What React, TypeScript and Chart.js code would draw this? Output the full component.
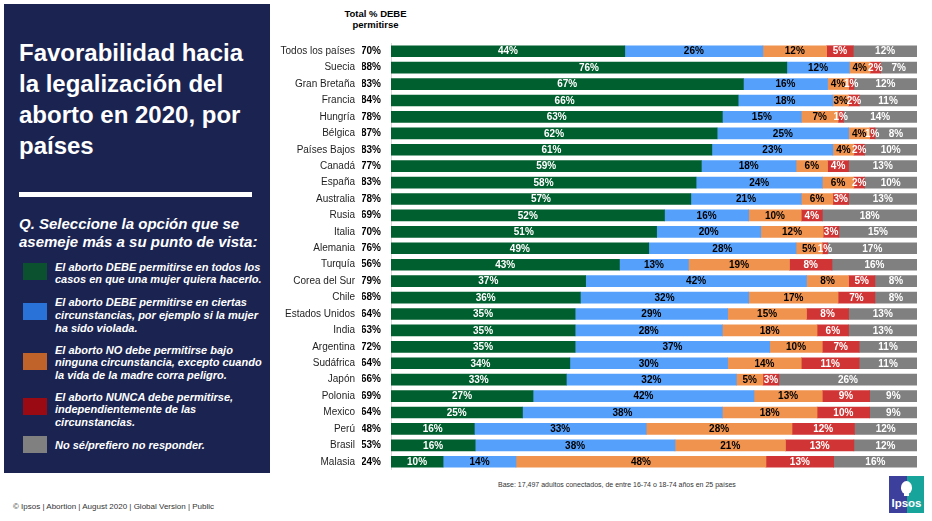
import React, { useEffect, useRef } from "react";
import { Chart, registerables } from "chart.js";

Chart.register(...registerables);

const FONT = '"Liberation Sans", Arial, Helvetica, sans-serif';

const COUNTRIES = [
  "Todos los países", "Suecia", "Gran Bretaña", "Francia", "Hungría", "Bélgica",
  "Países Bajos", "Canadá", "España", "Australia", "Rusia", "Italia", "Alemania",
  "Turquía", "Corea del Sur", "Chile", "Estados Unidos", "India", "Argentina",
  "Sudáfrica", "Japón", "Polonia", "Mexico", "Perú", "Brasil", "Malasia",
];

const TOTAL_DEBE = [70, 88, 83, 84, 78, 87, 83, 77, 83, 78, 69, 70, 76, 56, 79, 68, 64, 63, 72, 64, 66, 69, 64, 48, 53, 24];

const DEBE_TODOS = [44, 76, 67, 66, 63, 62, 61, 59, 58, 57, 52, 51, 49, 43, 37, 36, 35, 35, 35, 34, 33, 27, 25, 16, 16, 10];
const DEBE_CIERTAS = [26, 12, 16, 18, 15, 25, 23, 18, 24, 21, 16, 20, 28, 13, 42, 32, 29, 28, 37, 30, 32, 42, 38, 33, 38, 14];
const NO_EXCEPTO = [12, 4, 4, 3, 7, 4, 4, 6, 6, 6, 10, 12, 5, 19, 8, 17, 15, 18, 10, 14, 5, 13, 18, 28, 21, 48];
const NUNCA = [5, 2, 1, 2, 1, 1, 2, 4, 2, 3, 4, 3, 1, 8, 5, 7, 8, 6, 7, 11, 3, 9, 10, 12, 13, 13];
const NO_SE = [12, 7, 12, 11, 14, 8, 10, 13, 10, 13, 18, 15, 17, 16, 8, 8, 13, 13, 11, 11, 26, 9, 9, 12, 12, 16];

const SERIES = [DEBE_TODOS, DEBE_CIERTAS, NO_EXCEPTO, NUNCA, NO_SE];
const SERIES_NAMES = [
  "El aborto DEBE permitirse en todos los casos en que una mujer quiera hacerlo.",
  "El aborto DEBE permitirse en ciertas circunstancias, por ejemplo si la mujer ha sido violada.",
  "El aborto NO debe permitirse bajo ninguna circunstancia, excepto cuando la vida de la madre corra peligro.",
  "El aborto NUNCA debe permitirse, independientemente de las circunstancias.",
  "No sé/prefiero no responder.",
];
const BAR_COLORS = ["#005f2e", "#55a0fb", "#ef934f", "#d13434", "#808080"];
const LABEL_COLORS = ["#ffffff", "#000000", "#000000", "#ffffff", "#ffffff"];
const SWATCH_COLORS = ["#0b5130", "#2872d8", "#bf632b", "#9a0a13", "#808080"];

const LEGEND_LINES = [
  ["El aborto DEBE permitirse en todos los", "casos en que una mujer quiera hacerlo."],
  ["El aborto DEBE permitirse en ciertas", "circunstancias, por ejemplo si la mujer", "ha sido violada."],
  ["El aborto NO debe permitirse bajo", "ninguna circunstancia, excepto cuando", "la vida de la madre corra peligro."],
  ["El aborto NUNCA debe permitirse,", "independientemente de las", "circunstancias."],
  ["No sé/prefiero no responder."],
];
const LEGEND_TEXT_TOP = [260.5, 296.3, 343.6, 390.6, 438.6];
const LEGEND_SWATCH_TOP = [263, 303, 353, 398, 436];

const ROW_SUMS = COUNTRIES.map((_, i) => SERIES.reduce((s, arr) => s + arr[i], 0));

const segLabels = {
  id: "segLabels",
  afterDatasetsDraw(chart: any) {
    const ctx = chart.ctx;
    ctx.save();
    ctx.font = `bold 10px ${FONT}`;
    ctx.textAlign = "center";
    ctx.textBaseline = "middle";
    chart.data.datasets.forEach((_ds: any, di: number) => {
      const meta = chart.getDatasetMeta(di);
      meta.data.forEach((bar: any, i: number) => {
        const { x, base, y } = bar.getProps(["x", "base", "y"], true);
        ctx.fillStyle = LABEL_COLORS[di];
        ctx.fillText(SERIES[di][i] + "%", (x + base) / 2, y + 0.5);
      });
    });
    ctx.restore();
  },
};

function BarChart() {
  const ref = useRef<HTMLCanvasElement | null>(null);
  useEffect(() => {
    if (!ref.current) return;
    Chart.defaults.font.family = FONT;
    const chart = new Chart(ref.current, {
      type: "bar",
      data: {
        labels: COUNTRIES,
        datasets: SERIES.map((arr, di) => ({
          label: SERIES_NAMES[di],
          data: arr.map((v, i) => (v / ROW_SUMS[i]) * 100),
          backgroundColor: BAR_COLORS[di],
          borderWidth: 0,
          barThickness: 11,
        })),
      },
      options: {
        indexAxis: "y",
        animation: false,
        responsive: false,
        maintainAspectRatio: false,
        layout: { padding: 0 },
        plugins: { legend: { display: false }, tooltip: { enabled: false } },
        scales: {
          x: { stacked: true, display: false, min: 0, max: 100 },
          y: {
            type: "category",
            stacked: true,
            position: "left",
            weight: 10,
            grid: { display: false, drawTicks: false },
            border: { display: false },
            ticks: { font: { size: 10, family: FONT }, color: "#1f1f1f", padding: 7, autoSkip: false },
            afterFit(s: any) {
              s.width = 90;
              s.paddingTop = 0;
              s.paddingBottom = 0;
            },
          },
          yTot: {
            type: "category",
            labels: TOTAL_DEBE.map((v) => v + "%"),
            position: "left",
            weight: 0,
            offset: true,
            grid: { display: false, drawTicks: false },
            border: { display: true, color: "#d9d9d9", width: 1 },
            ticks: { font: { size: 10, weight: "bold", family: FONT }, color: "#000000", padding: 10, autoSkip: false },
            afterFit(s: any) {
              s.width = 29;
              s.paddingTop = 0;
              s.paddingBottom = 0;
            },
          },
        },
      } as any,
      plugins: [segLabels],
    });
    return () => chart.destroy();
  }, []);
  return <canvas ref={ref} width={645} height={427} style={{ display: "block" }} />;
}

export default function App() {
  const abs = (o: React.CSSProperties): React.CSSProperties => ({ position: "absolute", ...o });
  return (
    <div style={abs({ left: 0, top: 0, width: 932, height: 521, background: "#fff", overflow: "hidden", fontFamily: FONT })}>
      <div style={abs({ left: 4, top: 4, width: 266, height: 469, background: "#1b2451" })} />
      <div style={abs({ left: 19, top: 37, color: "#fff", fontWeight: "bold", fontSize: 24, lineHeight: "31px", whiteSpace: "nowrap" })}>
        Favorabilidad hacia<br />la legalización del<br />aborto en 2020, por<br />países
      </div>
      <div style={abs({ left: 19, top: 192, width: 233, height: 5, background: "#fff" })} />
      <div style={abs({ left: 19, top: 215, color: "#fff", fontWeight: "bold", fontStyle: "italic", fontSize: 15, lineHeight: "18px", whiteSpace: "nowrap" })}>
        Q. Seleccione la opción que se<br />asemeje más a su punto de vista:
      </div>
      {LEGEND_LINES.map((lines, i) => (
        <React.Fragment key={i}>
          <div style={abs({ left: 23, top: LEGEND_SWATCH_TOP[i], width: 24, height: 17, background: SWATCH_COLORS[i] })} />
          <div style={abs({ left: 55, top: LEGEND_TEXT_TOP[i], color: "#fff", fontWeight: "bold", fontStyle: "italic", fontSize: 11, lineHeight: "12.7px", whiteSpace: "nowrap" })}>
            {lines.map((l, j) => (
              <div key={j}>{l}</div>
            ))}
          </div>
        </React.Fragment>
      ))}
      <div style={abs({ left: 325, top: 7.5, width: 101, textAlign: "center", fontWeight: "bold", fontSize: 9.5, lineHeight: "11px", color: "#000" })}>
        Total % DEBE<br />permitirse
      </div>
      <div style={abs({ left: 272, top: 43, width: 645, height: 427 })}>
        <BarChart />
      </div>
      <div style={abs({ left: 498, top: 481, fontSize: 7, color: "#333", whiteSpace: "nowrap" })}>
        Base: 17,497 adultos conectados, de entre 16-74 o 18-74 años en 25 países
      </div>
      <div style={abs({ left: 13, top: 502, fontSize: 8, color: "#333", whiteSpace: "nowrap" })}>
        © Ipsos | Abortion | August 2020 | Global Version | Public
      </div>
      <div style={abs({ left: 889, top: 476, width: 35, height: 37, background: "linear-gradient(90deg, #3d3f9c 0%, #3d3f9c 50%, #17a49b 50%, #17a49b 100%)", overflow: "hidden" })}>
        <div style={abs({ left: 12, top: 5, width: 11, height: 13, borderRadius: "50% 50% 45% 45%", background: "#fff" })} />
        <div style={abs({ left: 15, top: 16, width: 5, height: 4, background: "#fff" })} />
        <div style={abs({ left: 0, top: 20, width: 35, textAlign: "center", color: "#fff", fontWeight: "bold", fontSize: 11.5, lineHeight: "14px" })}>Ipsos</div>
      </div>
    </div>
  );
}
